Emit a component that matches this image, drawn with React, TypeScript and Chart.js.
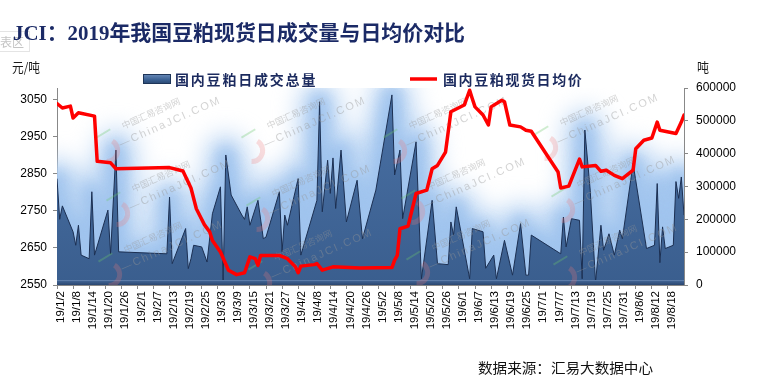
import React, { useEffect, useRef } from 'react';
import { Chart, registerables } from 'chart.js';

Chart.register(...registerables);

const TITLE = 'JCI：2019年我国豆粕现货日成交量与日均价对比';
const SERIES_VOLUME = '国内豆粕日成交总量';
const SERIES_PRICE = '国内豆粕现货日均价';
const LEFT_UNIT = '元/吨';
const RIGHT_UNIT = '吨';
const SOURCE = '数据来源：汇易大数据中心';
const CORNER_TAG = '表区';
const WATERMARK_CN = '中国汇易咨询网';
const WATERMARK_EN = '—ChinaJCI.COM';

const AXIS_START = '1/2';
const AXIS_END = '8/24';
const LAST_LABEL = '8/18';
const DATE_STEP_DAYS = 6;

const priceTicks = [2550, 2650, 2750, 2850, 2950, 3050];
const priceMin = 2550;
const priceMax = 3082;
const volumeTicks = [0, 100000, 200000, 300000, 400000, 500000, 600000];

const volumeDates = ['1/2','1/3','1/4','1/8','1/9','1/10','1/11','1/14','1/15','1/16','1/21','1/22','1/24','1/25','2/12','2/13','2/14','2/19','2/20','2/21','2/22','2/25','2/27','3/1','3/4','3/5','3/6','3/8','3/12','3/13','3/14','3/15','3/18','3/20','3/21','3/26','3/27','3/28','3/29','4/2','4/3','4/9','4/10','4/11','4/13','4/14','4/15','4/16','4/18','4/20','4/24','4/26','5/1','5/7','5/8','5/10','5/11','5/16','5/18','5/22','5/24','5/28','5/29','5/30','5/31','6/5','6/6','6/10','6/11','6/14','6/15','6/18','6/21','6/24','6/26','6/27','6/28','7/9','7/10','7/11','7/13','7/16','7/17','7/18','7/20','7/22','7/24','7/25','7/27','7/29','7/31','8/1','8/5','8/10','8/13','8/14','8/15','8/16','8/17','8/20','8/21','8/22','8/23','8/24'];
const volumeValues = [324000,200000,241000,162000,121000,182000,91000,80000,284000,91000,228000,95000,411000,101000,95000,268000,65000,172000,50000,80000,121000,116000,70000,217000,299000,14000,396000,274000,213000,200000,238000,182000,258000,141000,146000,284000,101000,213000,182000,324000,91000,258000,558000,223000,380000,279000,387000,233000,411000,192000,319000,141000,289000,579000,335000,411000,202000,436000,19000,258000,65000,62000,192000,152000,238000,19000,172000,162000,51000,91000,19000,136000,30000,187000,30000,30000,152000,95000,207000,116000,202000,197000,19000,472000,289000,9000,182000,106000,156000,91000,167000,141000,370000,111000,121000,309000,68000,177000,111000,121000,315000,264000,329000,213000];

const priceDates = ['1/2','1/4','1/7','1/8','1/10','1/16','1/17','1/22','1/24','2/13','2/18','2/21','2/23','2/26','2/28','3/1','3/4','3/7','3/10','3/13','3/15','3/17','3/18','3/19','3/26','3/29','4/1','4/2','4/3','4/8','4/9','4/11','4/15','4/25','5/7','5/8','5/9','5/10','5/13','5/14','5/16','5/20','5/22','5/24','5/27','5/29','6/3','6/5','6/6','6/7','6/10','6/12','6/13','6/17','6/18','6/20','6/24','6/26','6/28','7/8','7/9','7/12','7/16','7/17','7/22','7/24','7/26','7/29','8/1','8/5','8/6','8/9','8/12','8/14','8/15','8/21','8/23','8/24'];
const priceValues = [3040,3028,3033,3001,3015,3006,2884,2880,2864,2867,2858,2812,2756,2713,2693,2670,2639,2590,2578,2583,2626,2621,2603,2630,2630,2621,2599,2583,2601,2605,2608,2590,2599,2596,2597,2617,2630,2702,2709,2738,2797,2806,2864,2873,2909,3018,3036,3076,3053,3031,3009,2982,3031,3049,3045,2982,2977,2968,2965,2855,2812,2817,2890,2869,2873,2857,2860,2846,2837,2860,2918,2941,2947,2990,2968,2959,2990,3009];

const watermarkSpots = [
  [160, 118], [305, 118], [447, 118], [598, 115],
  [170, 181], [310, 186], [465, 179], [615, 177],
  [162, 242], [312, 250], [470, 240], [617, 245],
];

const DAY_MS = 86400000;
const BASE = Date.UTC(2019, 0, 2);
const dayOf = (s: string) => {
  const [m, d] = s.split('/').map(Number);
  return (Date.UTC(2019, m - 1, d) - BASE) / DAY_MS;
};
const labelOf = (v: number) => {
  const dt = new Date(BASE + v * DAY_MS);
  return `19/${dt.getUTCMonth() + 1}/${dt.getUTCDate()}`;
};

const CJK = '"Noto Sans CJK SC"';

function fitText(ctx: CanvasRenderingContext2D, text: string, x: number, y: number, width: number) {
  const w = ctx.measureText(text).width;
  ctx.save();
  ctx.translate(x, y);
  ctx.scale(width / w, 1);
  ctx.textAlign = 'left';
  ctx.textBaseline = 'middle';
  ctx.fillText(text, 0, 0);
  ctx.restore();
}

function spacedText(ctx: CanvasRenderingContext2D, text: string, x: number, y: number, step: number) {
  ctx.textAlign = 'left';
  ctx.textBaseline = 'middle';
  Array.from(text).forEach((ch, i) => ctx.fillText(ch, x + i * step, y));
}

function drawMark(ctx: CanvasRenderingContext2D, x: number, y: number) {
  ctx.save();
  ctx.translate(x, y);
  ctx.rotate(-0.42);
  ctx.strokeStyle = 'rgba(240,120,120,0.25)';
  ctx.lineWidth = 5;
  ctx.beginPath();
  ctx.arc(-62, 8, 11, -0.6, 2.0);
  ctx.stroke();
  ctx.strokeStyle = 'rgba(110,200,110,0.32)';
  ctx.lineWidth = 2;
  ctx.beginPath();
  ctx.moveTo(-66, -8);
  ctx.lineTo(-50, -10);
  ctx.stroke();
  ctx.fillStyle = 'rgba(150,150,150,0.42)';
  ctx.textAlign = 'left';
  ctx.textBaseline = 'middle';
  ctx.font = `9px ${CJK}`;
  ctx.fillText(WATERMARK_CN, -38, -8);
  ctx.font = '11px "Liberation Sans"';
  (ctx as any).letterSpacing = '2px';
  ctx.fillText(WATERMARK_EN, -48, 8);
  (ctx as any).letterSpacing = '0px';
  ctx.restore();
}

const VOLUME_INDEX = 1;

const decor = {
  id: 'decor',
  beforeDatasetsDraw(chart: any) {
    const meta = chart.getDatasetMeta(VOLUME_INDEX);
    const { ctx, chartArea: a } = chart;
    const pts = meta.data;
    if (!pts.length) return;
    ctx.save();
    ctx.beginPath();
    ctx.rect(a.left, a.top, a.right - a.left, a.bottom - a.top);
    ctx.clip();
    const path = new Path2D();
    path.moveTo(pts[0].x, a.bottom);
    pts.forEach((p: any) => path.lineTo(p.x, p.y));
    path.lineTo(pts[pts.length - 1].x, a.bottom);
    path.closePath();
    ctx.lineJoin = 'round';
    // wide faint halo
    ctx.filter = 'blur(12px)';
    ctx.fillStyle = 'rgba(185,212,243,1)';
    ctx.strokeStyle = 'rgba(185,212,243,1)';
    ctx.lineWidth = 40;
    ctx.stroke(path);
    ctx.fill(path);
    // stronger inner halo
    ctx.filter = 'blur(7px)';
    ctx.fillStyle = 'rgba(160,196,238,1)';
    ctx.strokeStyle = 'rgba(160,196,238,1)';
    ctx.lineWidth = 16;
    ctx.stroke(path);
    ctx.fill(path);
    ctx.filter = 'none';
    ctx.restore();
  },
  afterDatasetDraw(chart: any, args: any) {
    if (args.index !== VOLUME_INDEX) return;
    const { ctx, chartArea: a } = chart;
    ctx.save();
    const g = ctx.createLinearGradient(0, a.bottom - 5, 0, a.bottom);
    g.addColorStop(0, '#6d8cb8');
    g.addColorStop(0.3, '#3d5f8e');
    g.addColorStop(1, '#2a4670');
    ctx.fillStyle = g;
    ctx.fillRect(a.left, a.bottom - 5, a.right - a.left, 5);
    ctx.beginPath();
    ctx.rect(a.left, a.top, a.right - a.left, a.bottom - a.top);
    ctx.clip();
    watermarkSpots.forEach(([x, y]) => drawMark(ctx, x, y));
    ctx.restore();
  },
  afterDraw(chart: any) {
    const ctx: CanvasRenderingContext2D = chart.ctx;
    ctx.save();
    // corner tag
    ctx.strokeStyle = '#e4e4e4';
    ctx.lineWidth = 1;
    ctx.strokeRect(-1.5, 31.5, 31, 20);
    ctx.fillStyle = '#c4c4c4';
    ctx.font = `12px ${CJK}`;
    fitText(ctx, CORNER_TAG, 0, 42, 24);
    // title
    ctx.fillStyle = '#1b2a66';
    ctx.font = `bold 21px "Liberation Serif", ${CJK}`;
    fitText(ctx, TITLE, 13, 35, 452);
    // units
    ctx.fillStyle = '#1a1a1a';
    ctx.font = `13px ${CJK}`;
    fitText(ctx, LEFT_UNIT, 12, 67, 28);
    fitText(ctx, RIGHT_UNIT, 697, 67, 12);
    // legend
    const sg = ctx.createLinearGradient(0, 74, 0, 85);
    sg.addColorStop(0, '#6b8cbb');
    sg.addColorStop(0.5, '#3d6395');
    sg.addColorStop(1, '#243f66');
    ctx.fillStyle = sg;
    ctx.fillRect(143, 74, 28, 10);
    ctx.strokeStyle = '#1e3558';
    ctx.strokeRect(143.5, 74.5, 27, 9);
    ctx.strokeStyle = '#ff0000';
    ctx.lineWidth = 3.5;
    ctx.beginPath();
    ctx.moveTo(410, 79);
    ctx.lineTo(437, 79);
    ctx.stroke();
    ctx.fillStyle = '#1b2a5e';
    ctx.font = `bold 14px ${CJK}`;
    spacedText(ctx, SERIES_VOLUME, 175, 80, 15.8);
    spacedText(ctx, SERIES_PRICE, 443, 80, 15.6);
    // source
    ctx.fillStyle = '#111';
    ctx.font = `14px ${CJK}`;
    fitText(ctx, SOURCE, 478, 368, 175);
    ctx.restore();
  },
};

export default function App() {
  const ref = useRef<HTMLCanvasElement | null>(null);
  useEffect(() => {
    if (!ref.current) return;
    const axisMin = dayOf(AXIS_START);
    const axisMax = dayOf(AXIS_END);
    const lastLabel = dayOf(LAST_LABEL);
    const tickFont = { family: '"Liberation Sans", Arial', size: 12 };
    const chart = new Chart(ref.current, {
      type: 'line',
      data: {
        datasets: [
          {
            label: SERIES_PRICE,
            data: priceDates.map((d, i) => ({ x: dayOf(d), y: priceValues[i] })),
            yAxisID: 'yL',
            borderColor: '#ff0000',
            borderWidth: 3.5,
            borderJoinStyle: 'round',
            borderCapStyle: 'round',
            pointRadius: 0,
            tension: 0,
            fill: false,
            order: 0,
          },
          {
            label: SERIES_VOLUME,
            data: volumeDates.map((d, i) => ({ x: dayOf(d), y: volumeValues[i] })),
            yAxisID: 'yR',
            borderColor: '#1b2f52',
            borderWidth: 1,
            pointRadius: 0,
            tension: 0,
            fill: 'origin',
            backgroundColor: (c: any) => {
              const area = c.chart.chartArea;
              if (!area) return '#40679a';
              const g = c.chart.ctx.createLinearGradient(0, area.top, 0, area.bottom);
              g.addColorStop(0, '#4a71a5');
              g.addColorStop(1, '#3a5e8e');
              return g;
            },
            order: 1,
          },
        ],
      },
      options: {
        animation: false,
        responsive: false,
        devicePixelRatio: 1,
        layout: { padding: { top: 88, left: 0, right: 0, bottom: 0 } },
        plugins: { legend: { display: false }, tooltip: { enabled: false }, title: { display: false } },
        scales: {
          x: {
            type: 'linear',
            min: axisMin,
            max: axisMax,
            grid: { drawOnChartArea: false, drawTicks: true, tickLength: 4, color: '#888' },
            border: { color: '#888', width: 1 },
            ticks: {
              stepSize: DATE_STEP_DAYS,
              autoSkip: false,
              minRotation: 90,
              maxRotation: 90,
              padding: 2,
              labelOffset: 4,
              color: '#000',
              font: { family: '"Liberation Sans", Arial', size: 11.5 },
              callback: (v: any) => (Number(v) > lastLabel ? null : labelOf(Number(v))),
            },
            afterFit: (s: any) => { s.height = 107; },
          },
          yL: {
            type: 'linear',
            position: 'left',
            min: priceMin,
            max: priceMax,
            grid: { drawOnChartArea: false, drawTicks: true, tickLength: 4, color: '#888' },
            border: { color: '#888', width: 1 },
            ticks: { padding: 6, color: '#000', font: tickFont, callback: (v: any) => String(v) },
            afterBuildTicks: (s: any) => { s.ticks = priceTicks.map((v) => ({ value: v })); },
            afterFit: (s: any) => { s.width = 57; },
          },
          yR: {
            type: 'linear',
            position: 'right',
            min: volumeTicks[0],
            max: volumeTicks[volumeTicks.length - 1],
            grid: { drawOnChartArea: false, drawTicks: true, tickLength: 4, color: '#888' },
            border: { color: '#888', width: 1 },
            ticks: { padding: 8, color: '#000', font: tickFont, callback: (v: any) => String(v) },
            afterBuildTicks: (s: any) => { s.ticks = volumeTicks.map((v) => ({ value: v })); },
            afterFit: (s: any) => { s.width = 74; },
          },
        },
      },
      plugins: [decor],
    } as any);
    return () => chart.destroy();
  }, []);
  return (
    <div style={{ position: 'absolute', left: 0, top: 0, width: 758, height: 392, background: '#fff' }}>
      <canvas ref={ref} width={758} height={392} style={{ width: 758, height: 392 }} />
    </div>
  );
}
